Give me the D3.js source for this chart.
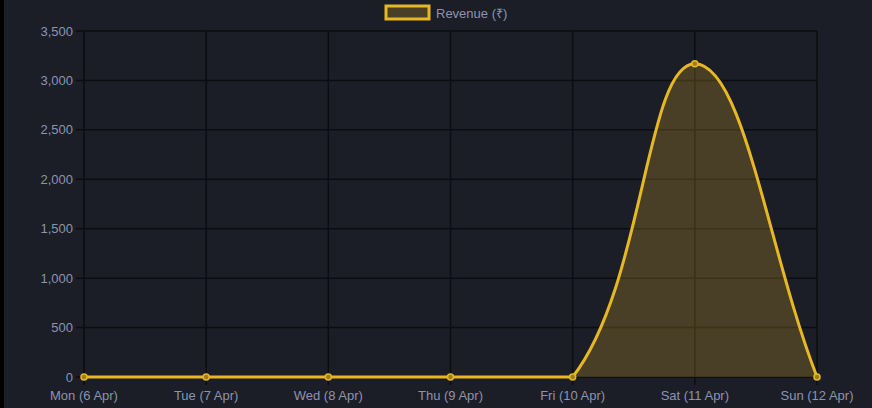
<!DOCTYPE html>
<html>
<head>
<meta charset="utf-8">
<script src="https://cdn.jsdelivr.net/npm/d3@7"></script>
<style>
  html, body { margin: 0; padding: 0; background: #1b1e27; }
  svg { display: block; }
</style>
</head>
<body>
<svg id="chart"></svg>
<script>
/* Data */
const DAYS = ['Mon (6 Apr)', 'Tue (7 Apr)', 'Wed (8 Apr)', 'Thu (9 Apr)', 'Fri (10 Apr)', 'Sat (11 Apr)', 'Sun (12 Apr)'];
const REVENUE = [0, 0, 0, 0, 0, 3168, 0];
const Y_TICKS = [0, 500, 1000, 1500, 2000, 2500, 3000, 3500];
const SERIES_NAME = 'Revenue (₹)';

/* Dimensions */
const WIDTH = 872;
const HEIGHT = 408;
const LEFT = 84, RIGHT = 817, TOP = 31, BOTTOM = 377;
const LINE_COLOR = '#e8b823';
const GRID_COLOR = '#0c0d12';
const TEXT_COLOR = '#8e93ad';

const svg = d3.select('#chart')
    .attr('width', WIDTH)
    .attr('height', HEIGHT)
    .style('font-family', 'Liberation Sans, Arial, sans-serif')
    .style('font-size', '13px');

svg.append('rect').attr('width', WIDTH).attr('height', HEIGHT).attr('fill', '#1b1e27');
svg.append('rect').attr('width', 4).attr('height', HEIGHT).attr('fill', '#000');

const x = d3.scalePoint().domain(DAYS).range([LEFT, RIGHT]);
const y = d3.scaleLinear().domain([0, 3500]).range([BOTTOM, TOP]);

/* grid */
const grid = svg.append('g');
grid.selectAll('.hgrid').data(Y_TICKS).enter().append('line')
    .attr('x1', LEFT - 8).attr('x2', RIGHT)
    .attr('y1', d => y(d)).attr('y2', d => y(d))
    .attr('stroke', GRID_COLOR).attr('stroke-width', 1.5);
grid.selectAll('.vgrid').data(DAYS).enter().append('line')
    .attr('x1', d => x(d)).attr('x2', d => x(d))
    .attr('y1', TOP).attr('y2', BOTTOM + 8)
    .attr('stroke', GRID_COLOR).attr('stroke-width', 1.5);

/* axis labels */
svg.append('g').selectAll('text').data(Y_TICKS).enter().append('text')
    .attr('x', LEFT - 11).attr('y', d => y(d)).attr('dy', '0.35em')
    .attr('text-anchor', 'end').attr('fill', TEXT_COLOR)
    .text(d3.format(','));
svg.append('g').selectAll('text').data(DAYS).enter().append('text')
    .attr('x', d => x(d)).attr('y', BOTTOM + 23)
    .attr('text-anchor', 'middle').attr('fill', TEXT_COLOR)
    .text(d => d);

/* chart.js style spline, control points capped to chart area */
const pts = DAYS.map((d, i) => ({ x: x(d), y: y(REVENUE[i]) }));
const tension = 0.4;
pts.forEach((p, i) => {
    const prev = pts[i - 1] || p, next = pts[i + 1] || p;
    const d01 = Math.hypot(p.x - prev.x, p.y - prev.y);
    const d12 = Math.hypot(next.x - p.x, next.y - p.y);
    let s01 = d01 / (d01 + d12), s12 = d12 / (d01 + d12);
    if (isNaN(s01)) s01 = 0;
    if (isNaN(s12)) s12 = 0;
    const fa = tension * s01, fb = tension * s12;
    const cap = (v, lo, hi) => Math.max(lo, Math.min(hi, v));
    p.cpx0 = cap(p.x - fa * (next.x - prev.x), LEFT, RIGHT);
    p.cpy0 = cap(p.y - fa * (next.y - prev.y), TOP, BOTTOM);
    p.cpx1 = cap(p.x + fb * (next.x - prev.x), LEFT, RIGHT);
    p.cpy1 = cap(p.y + fb * (next.y - prev.y), TOP, BOTTOM);
});
let pathD = `M${pts[0].x},${pts[0].y}`;
for (let i = 1; i < pts.length; i++) {
    const a = pts[i - 1], b = pts[i];
    pathD += `C${a.cpx1},${a.cpy1},${b.cpx0},${b.cpy0},${b.x},${b.y}`;
}

svg.append('path')
    .attr('d', pathD + `L${RIGHT},${BOTTOM}L${LEFT},${BOTTOM}Z`)
    .attr('fill', 'rgba(232,184,35,0.22)');
svg.append('path')
    .attr('d', pathD)
    .attr('fill', 'none')
    .attr('stroke', LINE_COLOR).attr('stroke-width', 3);

svg.append('g').selectAll('circle').data(pts).enter().append('circle')
    .attr('cx', d => d.x).attr('cy', d => d.y).attr('r', 3)
    .attr('fill', '#9c7d22').attr('stroke', LINE_COLOR).attr('stroke-width', 1.5);

/* legend */
const legend = svg.append('g');
legend.append('rect')
    .attr('x', 386).attr('y', 6).attr('width', 43).attr('height', 13)
    .attr('fill', 'rgba(232,184,35,0.22)')
    .attr('stroke', LINE_COLOR).attr('stroke-width', 3);
legend.append('text')
    .attr('x', 436).attr('y', 13).attr('dy', '0.35em')
    .attr('fill', TEXT_COLOR).text(SERIES_NAME);
</script>
</body>
</html>
